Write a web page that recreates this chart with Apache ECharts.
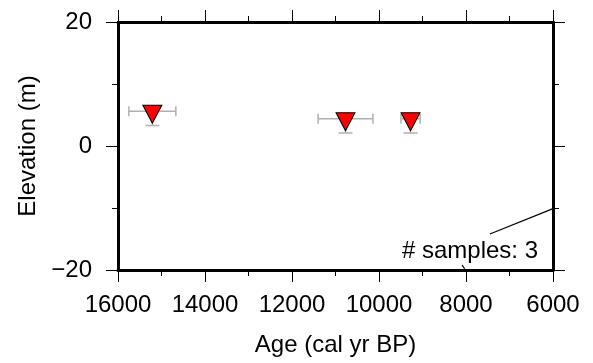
<!DOCTYPE html>
<html>
<head>
<meta charset="utf-8">
<script src="https://cdn.jsdelivr.net/npm/echarts@6/dist/echarts.min.js"></script>
<style>
  html, body { margin: 0; padding: 0; background: #fff; }
  #chart { width: 593px; height: 363px; }
</style>
</head>
<body>
<div id="chart"></div>
<script>
// sample ages (cal yr BP) and elevations (m)
var ages = [15210, 10770, 9275];
var ageErrors = [540, 630, 220];
var elevations = [5.6, 4.4, 4.4];
var elevErrLow = [2.3, 2.3, 2.3];
var xTicks = [16000, 14000, 12000, 10000, 8000, 6000];
var yTicks = [-20, 0, 20];
// leader line of the count label
var leaderLine = [[7450, -14.2], [6000, -10.1]];
var leaderDash = [[8090, -19.2], [8030, -19.8]];
var sampleLabel = "# samples: " + ages.length;

var FONT = "Liberation Sans";
var chart = echarts.init(document.getElementById("chart"));

var points = [];
var bars = [];
for (var i = 0; i < ages.length; i++) {
    points.push([ages[i], elevations[i]]);
    bars.push([ages[i], elevations[i], ageErrors[i], elevErrLow[i]]);
}

function frameAxis(pos, extra) {
    var a = {
        position: pos,
        axisLine: { show: true, onZero: false, lineStyle: { color: "#000", width: 3 } },
        axisTick: { show: true, inside: false, length: 12, lineStyle: { color: "#000", width: 1 } },
        minorTick: { show: true, splitNumber: 2, length: 6, lineStyle: { color: "#000", width: 1 } },
        splitLine: { show: false },
        minorSplitLine: { show: false },
        axisLabel: { show: false }
    };
    for (var k in extra) a[k] = extra[k];
    return a;
}

var labelStyle = { fontFamily: FONT, fontSize: 24, color: "#000" };

chart.setOption({
    animation: false,
    grid: { left: 118, right: 40, top: 22, bottom: 93 },
    xAxis: [
        frameAxis("bottom", {
            type: "value", min: 6000, max: 16000, interval: 2000, inverse: true,
            name: "Age (cal yr BP)", nameLocation: "middle", nameGap: 63,
            nameTextStyle: labelStyle,
            axisLabel: { show: true, margin: 23, fontFamily: FONT, fontSize: 24, color: "#000",
                formatter: function (v) { return xTicks.indexOf(v) >= 0 ? String(v) : ""; } }
        }),
        frameAxis("top", { type: "value", min: 6000, max: 16000, interval: 2000, inverse: true })
    ],
    yAxis: [
        frameAxis("left", {
            type: "value", min: -20, max: 20, interval: 20,
            name: "Elevation (m)", nameLocation: "middle", nameGap: 74,
            nameTextStyle: labelStyle,
            axisLabel: { show: true, margin: 26, fontFamily: FONT, fontSize: 24, color: "#000",
                formatter: function (v) { return yTicks.indexOf(v) >= 0 ? String(v).replace("-", "\u2212") : ""; } }
        }),
        frameAxis("right", { type: "value", min: -20, max: 20, interval: 20 })
    ],
    graphic: [{
        type: "text", x: 538, y: 251,
        style: { text: sampleLabel, fontFamily: FONT, fontSize: 24, fill: "#000",
            textAlign: "right", textVerticalAlign: "middle" }
    }],
    series: [
        {
            // error bars
            type: "custom",
            data: bars,
            silent: true,
            z: 2,
            renderItem: function (params, api) {
                var age = api.value(0), el = api.value(1), dx = api.value(2), dyl = api.value(3);
                var p0 = api.coord([age + dx, el]);
                var p1 = api.coord([age - dx, el]);
                var pc = api.coord([age, el]);
                var pb = api.coord([age, el - dyl]);
                var st = { stroke: "#b0b0b0", lineWidth: 1.5 };
                var cap = 5, capB = 7;
                return {
                    type: "group",
                    children: [
                        { type: "line", shape: { x1: p0[0], y1: p0[1], x2: p1[0], y2: p1[1] }, style: st },
                        { type: "line", shape: { x1: p0[0], y1: p0[1] - cap, x2: p0[0], y2: p0[1] + cap }, style: st },
                        { type: "line", shape: { x1: p1[0], y1: p1[1] - cap, x2: p1[0], y2: p1[1] + cap }, style: st },
                        { type: "line", shape: { x1: pc[0], y1: pc[1], x2: pb[0], y2: pb[1] }, style: st },
                        { type: "line", shape: { x1: pb[0] - capB, y1: pb[1], x2: pb[0] + capB, y2: pb[1] }, style: st }
                    ]
                };
            }
        },
        {
            type: "scatter",
            data: points,
            symbol: "triangle",
            symbolRotate: 180,
            symbolSize: [19, 18],
            symbolOffset: [0, 3],
            z: 3,
            itemStyle: { color: "#ff0000", borderColor: "#000", borderWidth: 1, opacity: 1 },
            markLine: {
                silent: true,
                symbol: "none",
                label: { show: false },
                lineStyle: { color: "#000", width: 1.2, type: "solid" },
                data: [
                    [{ coord: leaderLine[0] }, { coord: leaderLine[1] }],
                    [{ coord: leaderDash[0] }, { coord: leaderDash[1] }]
                ]
            }
        }
    ]
});
</script>
</body>
</html>
